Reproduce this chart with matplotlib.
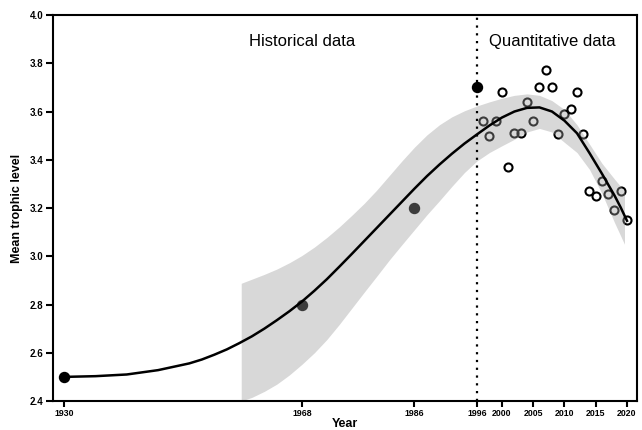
import matplotlib
matplotlib.use("Agg")
import matplotlib.pyplot as plt

plt.rcParams['font.family'] = ['Liberation Sans', 'DejaVu Sans']

# historical reconstructions (filled dots)
hist_years = [1930, 1968, 1986, 1996]
hist_tl = [2.50, 2.80, 3.20, 3.70]

# quantitative survey data (open circles)
survey_years = [1997, 1998, 1999, 2000, 2001, 2002, 2003, 2004, 2005, 2006, 2007, 2008,
                2009, 2010, 2011, 2012, 2013, 2014, 2015, 2016, 2017, 2018, 2019, 2020]
survey_tl = [3.56, 3.50, 3.56, 3.68, 3.37, 3.51, 3.51, 3.64, 3.56, 3.70, 3.77, 3.70,
             3.505, 3.59, 3.61, 3.68, 3.505, 3.27, 3.25, 3.31, 3.26, 3.19, 3.27, 3.15]

# fitted trend
fit_years = [1930, 1935, 1940, 1945, 1950, 1952, 1954, 1956, 1958, 1960, 1962, 1964, 1966,
             1968, 1970, 1972, 1974, 1976, 1978, 1980, 1982, 1984, 1986, 1988, 1990, 1992,
             1994, 1996, 1998, 2000, 2002, 2004, 2006, 2008, 2010, 2012, 2014, 2016, 2018,
             2019, 2020]
fit_tl = [2.50, 2.503, 2.51, 2.528, 2.556, 2.572, 2.592, 2.614, 2.64, 2.668, 2.70, 2.735,
          2.772, 2.812, 2.857, 2.905, 2.957, 3.01, 3.064, 3.118, 3.172, 3.226, 3.28, 3.332,
          3.38, 3.425, 3.467, 3.505, 3.542, 3.575, 3.60, 3.615, 3.617, 3.60, 3.562, 3.51,
          3.428, 3.342, 3.252, 3.202, 3.147]

# confidence band
band_years = [1958.3, 1960, 1962, 1964, 1966, 1968, 1970, 1972, 1974, 1976, 1978, 1980,
              1982, 1984, 1986, 1988, 1990, 1992, 1994, 1996, 1998, 2000, 2002, 2004,
              2006, 2008, 2010, 2012, 2014, 2016, 2018, 2019.6]
band_hi = [2.888, 2.905, 2.925, 2.947, 2.973, 3.003, 3.038, 3.078, 3.122, 3.17, 3.22, 3.275,
           3.335, 3.395, 3.452, 3.503, 3.545, 3.578, 3.603, 3.623, 3.64, 3.655, 3.667, 3.673,
           3.667, 3.645, 3.608, 3.545, 3.465, 3.385, 3.32, 3.27]
band_lo = [2.40, 2.415, 2.44, 2.47, 2.508, 2.552, 2.60, 2.655, 2.718, 2.785, 2.852, 2.918,
           2.985, 3.048, 3.11, 3.172, 3.23, 3.29, 3.347, 3.395, 3.43, 3.458, 3.485, 3.515,
           3.53, 3.515, 3.472, 3.43, 3.36, 3.26, 3.14, 3.05]

xticks = [1930, 1968, 1986, 1996, 2000, 2005, 2010, 2015, 2020]

fig = plt.figure(figsize=(6.42, 4.30), dpi=100)
ax = fig.add_axes([0.0826, 0.0674, 0.9096, 0.8977])

# points first, band drawn over them so the ones inside look grey
ax.plot(hist_years, hist_tl, 'o', color='black', ms=7.2, zorder=1)
ax.plot(survey_years, survey_tl, 'o', mfc='none', mec='black', ms=5.8, mew=1.5, zorder=1)
ax.fill_between(band_years, band_lo, band_hi, color='#9b9b9b', alpha=0.39, lw=0, zorder=2)
ax.plot(fit_years, fit_tl, '-', color='black', lw=1.8, zorder=3)
ax.axvline(1996, color='black', lw=1.6, ls=(0, (1, 2.5)), zorder=4)

ax.text(1968, 3.873, 'Historical data', ha='center', va='baseline', fontsize=12)
ax.text(2008, 3.873, 'Quantitative data', ha='center', va='baseline', fontsize=12)

ax.set_xlim(1928.2, 2021.6)
ax.set_ylim(2.4, 4.0)
ax.set_xticks(xticks)
ax.set_yticks([2.4, 2.6, 2.8, 3.0, 3.2, 3.4, 3.6, 3.8, 4.0])
ax.yaxis.set_major_formatter(matplotlib.ticker.FormatStrFormatter('%.1f'))
for sp in ax.spines.values():
    sp.set_linewidth(1.5)
ax.tick_params(axis='x', length=4, width=1.5, pad=2, labelsize=6.3)
ax.tick_params(axis='y', length=5, width=1.5, pad=2, labelsize=7)
for lab in ax.get_xticklabels() + ax.get_yticklabels():
    lab.set_fontweight('bold')
ax.set_xlabel('Year', fontsize=9, fontweight='bold', labelpad=0)
ax.set_ylabel('Mean trophic level', fontsize=9, fontweight='bold', labelpad=5)

fig.savefig('out.png', dpi=100)
